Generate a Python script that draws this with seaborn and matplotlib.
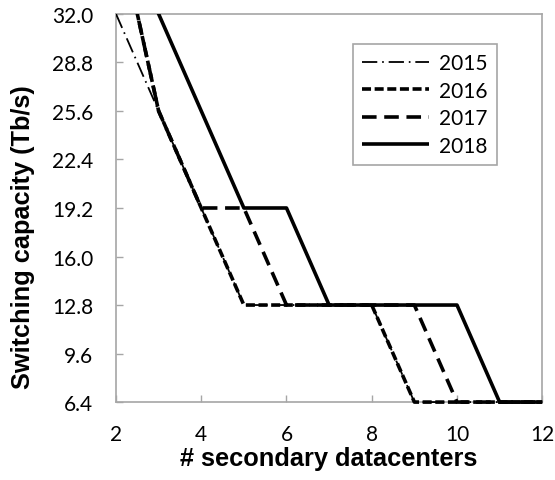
import matplotlib
matplotlib.use("Agg")
import matplotlib.pyplot as plt
from matplotlib.patches import Rectangle
import pandas as pd
import seaborn as sns

# Number of secondary datacenters
datacenters = [2, 3, 4, 5, 6, 7, 8, 9, 10, 11, 12]

# Required switching capacity (Tb/s) per deployment year
cap_2015 = [32.0, 25.6, 19.2, 12.8, 12.8, 12.8, 12.8, 6.4, 6.4, 6.4, 6.4]
cap_2016 = [38.4, 25.6, 19.2, 12.8, 12.8, 12.8, 12.8, 6.4, 6.4, 6.4, 6.4]
cap_2017 = [38.4, 25.6, 19.2, 19.2, 12.8, 12.8, 12.8, 12.8, 6.4, 6.4, 6.4]
cap_2018 = [38.4, 32.0, 25.6, 19.2, 19.2, 12.8, 12.8, 12.8, 12.8, 6.4, 6.4]

years = ["2015", "2016", "2017", "2018"]
series = [cap_2015, cap_2016, cap_2017, cap_2018]

x_ticks = [2, 4, 6, 8, 10, 12]
y_ticks = [6.4, 9.6, 12.8, 16.0, 19.2, 22.4, 25.6, 28.8, 32.0]

sns.set_theme(style="white")
plt.rcParams["lines.scale_dashes"] = False
plt.rcParams["font.family"] = ["Lato", "DejaVu Sans"]
plt.rcParams["text.color"] = "black"
plt.rcParams["axes.labelcolor"] = "black"

frames = []
for yr, vals in zip(years, series):
    frames.append(pd.DataFrame({"n": datacenters, "cap": vals, "year": yr}))
df = pd.concat(frames, ignore_index=True)

styles = {
    "2015": dict(lw=1.3, dashes=(11, 3.5, 1.2, 3.5)),
    "2016": dict(lw=2.6, dashes=(6.5, 2.6)),
    "2017": dict(lw=2.6, dashes=(10.5, 5.5)),
    "2018": dict(lw=2.6, dashes=None),
}

fig = plt.figure(figsize=(5.55, 4.81), dpi=100)
ax = fig.add_axes([0.209, 0.162, 0.768, 0.807])

for yr in years:
    sub = df[df["year"] == yr]
    st = styles[yr]
    sns.lineplot(data=sub, x="n", y="cap", ax=ax, color="black",
                 linewidth=st["lw"], label=yr, estimator=None, sort=False)
    line = ax.lines[-1]
    if st["dashes"] is not None:
        line.set_dashes(st["dashes"])
    line.set_solid_capstyle("butt")
    line.set_dash_capstyle("butt")

ax.set_xlim(2, 12)
ax.set_ylim(6.4, 32.0)
ax.set_xticks(x_ticks)
ax.set_xticklabels([str(v) for v in x_ticks])
ax.set_yticks(y_ticks)
ax.set_yticklabels([f"{v:.1f}" for v in y_ticks])

# let the bottom plateau draw at full width over the frame, clip at the top
clip = Rectangle((0, -0.03), 1.03, 1.03, transform=ax.transAxes,
                 facecolor="none", edgecolor="none")
fig.add_artist(clip)
clip.set_visible(False)
for line in ax.lines:
    line.set_clip_path(clip)

frame_color = "#a6a6a6"
for sp in ax.spines.values():
    sp.set_visible(True)
    sp.set_color(frame_color)
    sp.set_linewidth(1.2)
    sp.set_zorder(1)
for line in ax.lines:
    line.set_zorder(3)

ax.tick_params(axis="both", direction="in", length=5, width=1.0,
               color=frame_color, labelsize=15, labelcolor="black",
               bottom=True, left=True, right=False, top=False)
ax.tick_params(axis="x", pad=16)
ax.tick_params(axis="y", pad=16.5)

label_font = dict(family="Liberation Sans", weight="bold", size=18.3,
                  color="black")
ax.set_xlabel("# secondary datacenters", fontdict=label_font)
ax.set_ylabel("Switching capacity (Tb/s)", fontdict=label_font)
ax.xaxis.set_label_coords(0.5, -0.113)
ax.yaxis.set_label_coords(-0.19, 0.428)

leg = ax.legend(loc="upper left", bbox_to_anchor=(0.556, 0.923),
                borderaxespad=0, frameon=True, fancybox=False,
                framealpha=1, edgecolor=frame_color, fontsize=15,
                handlelength=3.2, handletextpad=0.5, labelspacing=0.36,
                borderpad=0.45)
leg.get_frame().set_linewidth(1.2)
for t in leg.get_texts():
    t.set_color("black")

fig.savefig("out.png", dpi=100)
